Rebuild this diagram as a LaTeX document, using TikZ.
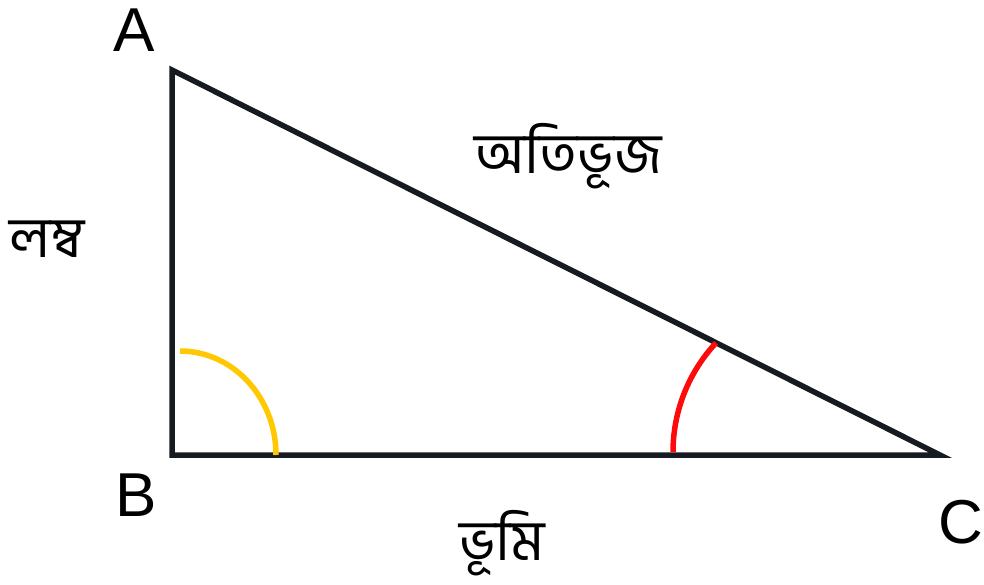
\documentclass[tikz,border=0pt]{standalone}
\usepackage{fontspec}
\setmainfont{Liberation Sans}
\newfontfamily\bnfont[Script=Bengali]{Hind Siliguri}
\usetikzlibrary{positioning}
\definecolor{edgeblack}{RGB}{21,27,33}
\definecolor{anglegold}{RGB}{255,200,0}
\definecolor{anglered}{RGB}{255,10,10}

\begin{document}
\begin{tikzpicture}[x=1pt, y=-1pt,
    side/.style={draw=edgeblack, line width=5.5pt, line join=miter},
    mark angle/.style={line width=5.5pt},
    vertex/.style={font=\fontsize{62}{62}\selectfont, inner sep=0pt},
    sidename/.style={font=\bnfont\fontsize{57}{57}\selectfont, inner sep=0pt}]
  \useasboundingbox (0,0) rectangle (984,585);
  \coordinate (B) at (172,455);
  \coordinate (A) at (172,70);
  \coordinate (C) at (940,455);
  % triangle
  \draw[side] (A) -- (B) -- (C) -- cycle;
  % angles
  \draw[anglegold, mark angle] (180,351) arc[start angle=90, end angle=0, x radius=96, y radius=-104];
  \draw[anglered, mark angle] (673,452) arc[start angle=180, end angle=223, radius=160];
  % vertex names
  \node[vertex] (lA) at (134,30) {A};
  \node[vertex] (lB) at (136,495) {B};
  \node[vertex] (lC) at (961,522) {C};
  % side names
  \node[sidename] (hyp) at (568,156) {অতিভূজ};
  \node[sidename] (perp) at (47,239) {লম্ব};
  \node[sidename] (base) at (502,543) {ভূমি};
\end{tikzpicture}
\end{document}
